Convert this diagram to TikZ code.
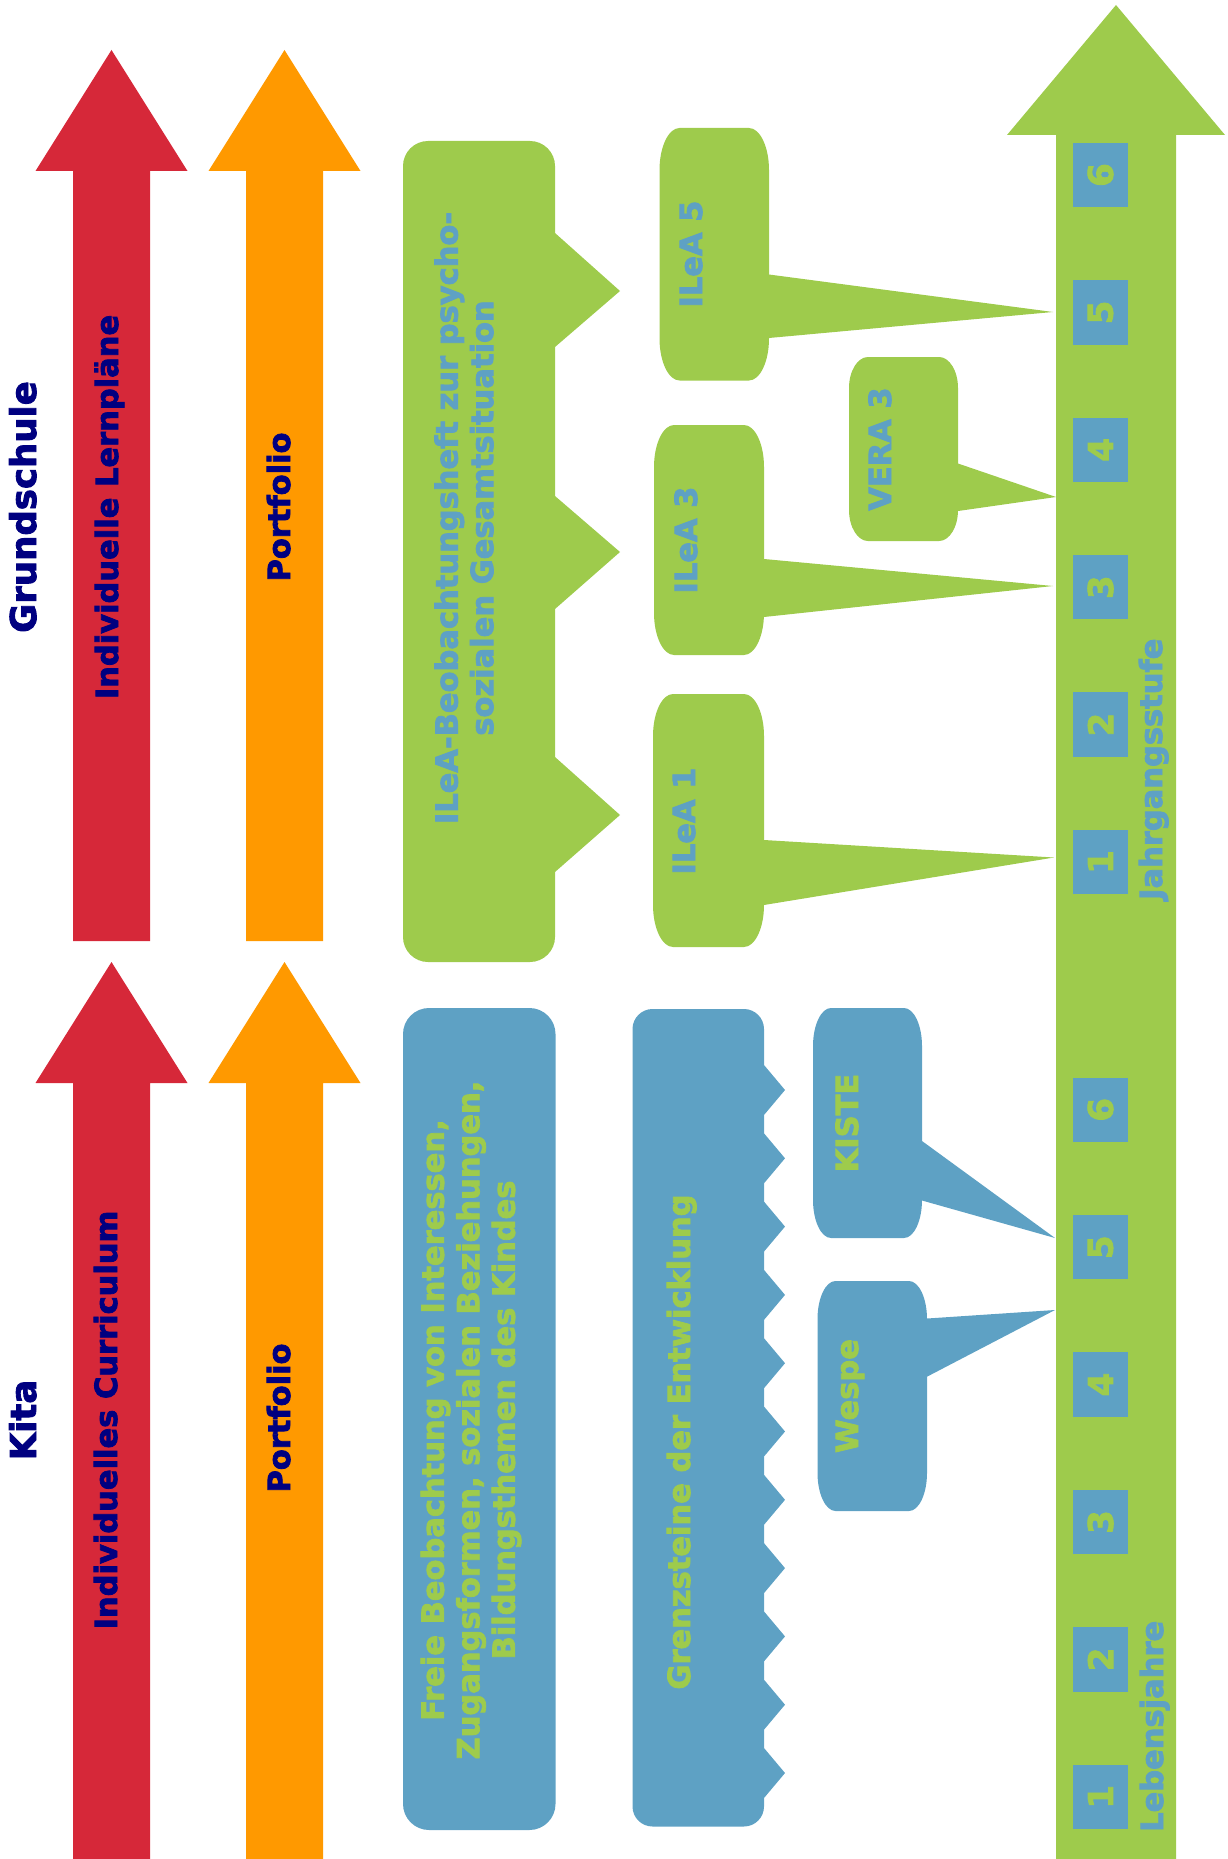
\documentclass[tikz,border=0pt]{standalone}
\usepackage{fontspec}
\setmainfont{DejaVu Sans}[BoldFeatures={FakeBold=2.5}]
\usepackage{tikz}
\usepackage{xcolor}
\definecolor{kred}{RGB}{214,40,57}
\definecolor{korange}{RGB}{255,153,0}
\definecolor{kgreen}{RGB}{158,203,76}
\definecolor{kblue}{RGB}{94,161,196}
\definecolor{knavy}{RGB}{0,0,128}
% box with rounded corners, #8 is inserted on the right-hand side
\newcommand{\bubble}[8]{%
  \fill[#1] (#2+#6,#3) -- (#4-#6,#3)
    .. controls (#4-0.45*#6,#3) and (#4,#3+0.45*#7) .. (#4,#3+#7)
    #8 -- (#4,#5-#7)
    .. controls (#4,#5-0.45*#7) and (#4-0.45*#6,#5) .. (#4-#6,#5)
    -- (#2+#6,#5)
    .. controls (#2+0.45*#6,#5) and (#2,#5-0.45*#7) .. (#2,#5-#7)
    -- (#2,#3+#7)
    .. controls (#2,#3+0.45*#7) and (#2+0.45*#6,#3) .. (#2+#6,#3) -- cycle;}

\begin{document}
\begin{tikzpicture}[x=1pt,y=-1pt,
  lbl/.style={rotate=90,inner sep=0pt,font=\bfseries\fontsize{30.5}{35.5}\selectfont},
  headlbl/.style={lbl,text=knavy,font=\bfseries\fontsize{35.5}{40}\selectfont},
  navy/.style={lbl,text=knavy},
  ongreen/.style={lbl,text=kblue},
  onblue/.style={lbl,text=kgreen},
  numbox/.style={rotate=90,inner sep=0pt,minimum width=64.5pt,minimum height=55pt,
    fill=kblue,text=kgreen,font=\bfseries\fontsize{34}{40}\selectfont}]
  \useasboundingbox (0,0) rectangle (1227,1859);
  % red and orange arrows (Grundschule above, Kita below)
  \foreach \cx/\col in {111.5/kred,284.5/korange}
    \foreach \ty/\by/\ey in {50/171/941,962/1083/1859}
      \fill[\col] (\cx,\ty) -- (\cx+76,\by) -- (\cx+38.5,\by) -- (\cx+38.5,\ey)
        -- (\cx-38.5,\ey) -- (\cx-38.5,\by) -- (\cx-76,\by) -- cycle;
  % green time arrow
  \fill[kgreen] (1116,5) -- (1225,135) -- (1176,135) -- (1176,1859)
    -- (1056,1859) -- (1056,135) -- (1007,135) -- cycle;
  \foreach \n in {1,...,6} {
    \node[numbox] (js\n) at (1100.5,{862-137.4*(\n-1)}) {\n};
    \node[numbox] (lj\n) at (1100.5,{1796.75-137.4*(\n-1)}) {\n};
  }
  % big boxes
  \bubble{kgreen}{403}{141}{555}{962}{25}{25}{-- (555,233) -- (620,291) -- (555,347)
    -- (555,496) -- (620,552) -- (555,609) -- (555,757) -- (620,815) -- (555,872)}
  \bubble{kblue}{403}{1008}{555.5}{1830}{26}{26}{}
  \bubble{kblue}{632.5}{1009}{764}{1826.5}{20}{20}{\foreach \k in {0,...,10} {
    -- (764,1065+68.3*\k) -- (785,1090+68.3*\k) -- (764,1115+68.3*\k)}}
  % callouts
  \bubble{kgreen}{659.5}{128}{769}{380.5}{20}{42}{-- (769,274.5) -- (1053,312) -- (769,338)}
  \bubble{kgreen}{849}{357}{958}{541}{19}{31}{-- (958,463.5) -- (1056,497) -- (958,511)}
  \bubble{kgreen}{654}{425}{764}{655}{20}{42}{-- (764,559) -- (1053,586) -- (764,617)}
  \bubble{kgreen}{653}{694}{764}{947}{20}{42}{-- (764,840) -- (1054,857.5) -- (764,905)}
  \bubble{kblue}{813}{1008}{922}{1238}{18}{38}{-- (922,1141) -- (1055,1238) -- (922,1200.5)}
  \bubble{kblue}{817.5}{1281}{927}{1511}{18}{38}{-- (927,1318.5) -- (1055,1310) -- (927,1376.7)}
  % labels
  \node[headlbl,anchor=base] (grund) at (36,507) {Grundschule};
  \node[headlbl,anchor=base] (kita) at (36,1420) {Kita};
  \node[navy,anchor=base] (lernpl) at (118,507) {Individuelle Lernpläne};
  \node[navy,anchor=base] (curric) at (117,1420) {Individuelles Curriculum};
  \node[navy,anchor=base] (portgs) at (290,507) {Portfolio};
  \node[navy,anchor=base] (portkita) at (290,1418) {Portfolio};
  \node[ongreen,align=center] (beob) at (464,518) {ILeA-Beobachtungsheft zur psycho-\\sozialen Gesamtsituation};
  \node[onblue,align=center] (freie) at (471,1420) {Freie Beobachtung von Interessen,\\Zugangsformen, sozialen Beziehungen,\\Bildungsthemen des Kindes};
  \node[onblue,anchor=base] (grenz) at (690,1442) {Grenzsteine der Entwicklung};
  \node[ongreen,anchor=base] (ilea5) at (702,254) {ILeA 5};
  \node[ongreen,anchor=base] (vera3) at (891,449) {VERA 3};
  \node[ongreen,anchor=base] (ilea3) at (697,540) {ILeA 3};
  \node[ongreen,anchor=base] (ilea1) at (695,821) {ILeA 1};
  \node[onblue,anchor=base] (kiste) at (858,1123) {KISTE};
  \node[onblue,anchor=base] (wespe) at (858,1396) {Wespe};
  \node[ongreen,anchor=base west] (jahr) at (1162,900) {Jahrgangsstufe};
  \node[ongreen,anchor=base west] (leben) at (1163,1832) {Lebensjahre};
\end{tikzpicture}
\end{document}
